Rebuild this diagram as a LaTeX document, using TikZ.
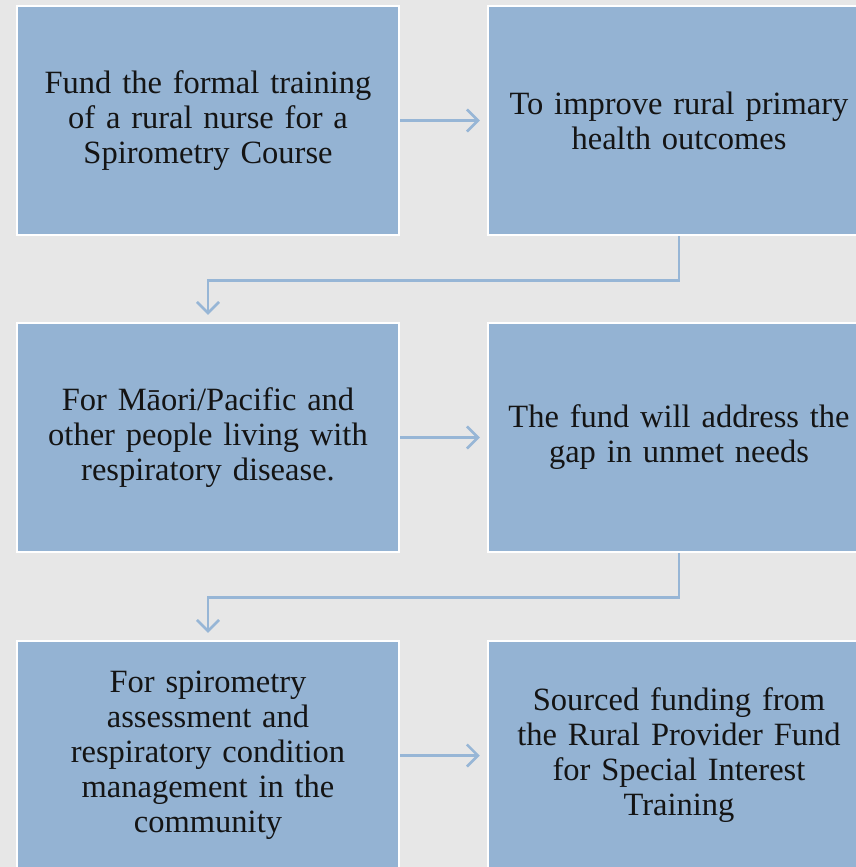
\documentclass[tikz,border=0pt]{standalone}
\usepackage{fontspec}
\setmainfont{Liberation Serif}
\usetikzlibrary{arrows.meta,calc}
\definecolor{bgc}{HTML}{E7E7E7}
\definecolor{boxc}{HTML}{94B3D3}
\definecolor{arrc}{HTML}{97B6D6}
\tikzset{
  stepbox/.style={draw=white, line width=2.5pt, fill=boxc, minimum width=382pt, minimum height=229pt,
    text width=370pt, align=center, inner sep=0pt, font=\fontsize{32.5}{35}\selectfont, text=black!92},
  conn/.style={draw=arrc, line width=2.5pt, -{Straight Barb[length=11pt,width=22pt,line width=2.5pt]}, shorten >=7pt},
}
\begin{document}
\begin{tikzpicture}[x=1pt,y=-1pt]
\fill[bgc] (0,0) rectangle (856,867);
\useasboundingbox (0,0) rectangle (856,867);
\clip (0,0) rectangle (856,867);
\node[stepbox] (b1) at (208,120.5) {Fund the formal training\\of a rural nurse for a\\Spirometry Course};
\node[stepbox] (b2) at (679,120.5) {To improve rural primary\\health outcomes};
\node[stepbox] (b3) at (208,437.5) {For Māori/Pacific and\\other people living with\\respiratory disease.};
\node[stepbox] (b4) at (679,437.5) {The fund will address the\\gap in unmet needs};
\node[stepbox] (b5) at (208,755.5) {For spirometry\\assessment and\\respiratory condition\\management in the\\community};
\node[stepbox] (b6) at (679,755.5) {Sourced funding from\\the Rural Provider Fund\\for Special Interest\\Training};
\draw[conn] (b1.east) -- (b2.west);
\draw[conn] (b3.east) -- (b4.west);
\draw[conn] (b5.east) -- (b6.west);
\draw[conn] (b2.south) -- ++(0,44) -| (b3.north);
\draw[conn] (b4.south) -- ++(0,44) -| (b5.north);
\end{tikzpicture}
\end{document}
